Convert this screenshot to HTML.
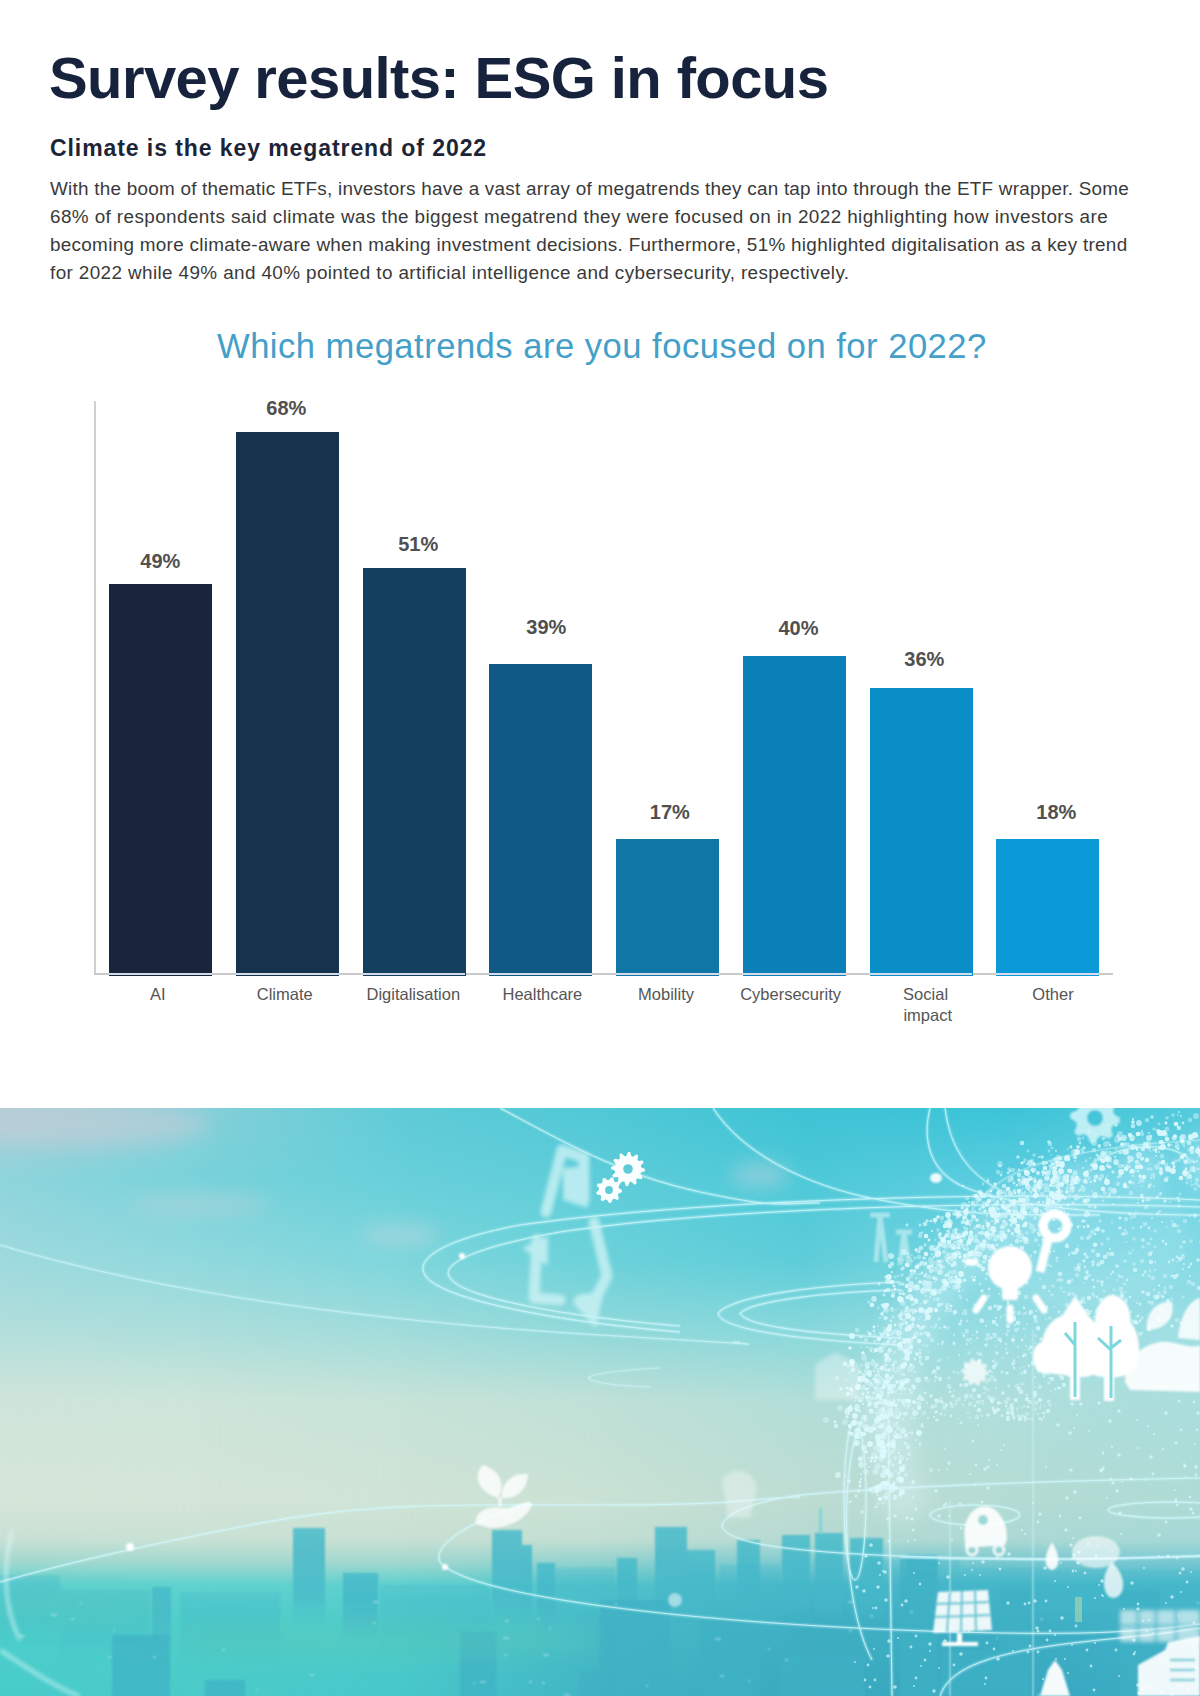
<!DOCTYPE html>
<html>
<head>
<meta charset="utf-8">
<style>
html,body{margin:0;padding:0;background:#fff;}
body{width:1200px;height:1696px;position:relative;overflow:hidden;font-family:"Liberation Sans",sans-serif;}
.a{position:absolute;white-space:nowrap;}
#title{left:49px;top:43px;font-size:58px;font-weight:bold;color:#17233d;letter-spacing:-0.6px;line-height:70px;}
#sub{left:50px;top:133px;font-size:23px;font-weight:bold;color:#1c2538;letter-spacing:0.92px;line-height:30px;}
.body{left:50px;font-size:18.9px;color:#3a3a3a;line-height:28px;}
#ctitle{left:217px;top:324px;font-size:34.6px;color:#449fc9;letter-spacing:0.49px;line-height:44px;}
.bar{position:absolute;width:103px;bottom:calc(1696px - 976px);}
.pct{position:absolute;width:120px;text-align:center;font-size:20px;font-weight:bold;color:#505050;line-height:24px;}
.cat{position:absolute;width:140px;text-align:center;font-size:16.5px;color:#555;line-height:21px;}
#img{position:absolute;left:0;top:1108px;width:1200px;height:588px;overflow:hidden;}
.cf{position:absolute;left:0;top:0;width:1200px;height:588px;}
.ov{position:absolute;left:0;top:0;}
</style>
</head>
<body>
<div class="a" id="title">Survey results: ESG in focus</div>
<div class="a" id="sub">Climate is the key megatrend of 2022</div>
<div class="a body" style="top:175px;letter-spacing:0.24px">With the boom of thematic ETFs, investors have a vast array of megatrends they can tap into through the ETF wrapper. Some</div>
<div class="a body" style="top:203px;letter-spacing:0.4px">68% of respondents said climate was the biggest megatrend they were focused on in 2022 highlighting how investors are</div>
<div class="a body" style="top:231px;letter-spacing:0.29px">becoming more climate-aware when making investment decisions. Furthermore, 51% highlighted digitalisation as a key trend</div>
<div class="a body" style="top:259px;letter-spacing:0.38px">for 2022 while 49% and 40% pointed to artificial intelligence and cybersecurity, respectively.</div>
<div class="a" id="ctitle">Which megatrends are you focused on for 2022?</div>

<!-- chart axes -->
<div style="position:absolute;left:94px;top:401px;width:2px;height:574px;background:#cfcfcf"></div>
<div style="position:absolute;left:94px;top:973px;width:1019px;height:2px;background:#c9c9c9"></div>

<div class="bar" style="left:109px;top:584px;background:#18253d"></div>
<div class="bar" style="left:236px;top:432px;background:#17324d"></div>
<div class="bar" style="left:363px;top:568px;background:#143f5f"></div>
<div class="bar" style="left:489px;top:664px;background:#115985"></div>
<div class="bar" style="left:616px;top:839px;background:#0f76a5"></div>
<div class="bar" style="left:743px;top:656px;background:#0b7fb7"></div>
<div class="bar" style="left:870px;top:688px;background:#0a8ec7"></div>
<div class="bar" style="left:996px;top:839px;background:#0b9ad7"></div>

<div class="pct" style="left:100.3px;top:549.0px">49%</div>
<div class="pct" style="left:226.3px;top:396.0px">68%</div>
<div class="pct" style="left:358.2px;top:532.0px">51%</div>
<div class="pct" style="left:486.3px;top:615.0px">39%</div>
<div class="pct" style="left:609.8px;top:800.0px">17%</div>
<div class="pct" style="left:738.5px;top:615.5px">40%</div>
<div class="pct" style="left:864.3px;top:647.0px">36%</div>
<div class="pct" style="left:996.3px;top:800.0px">18%</div>

<div class="cat" style="left:87.9px;top:984px">AI</div>
<div class="cat" style="left:214.7px;top:984px">Climate</div>
<div class="cat" style="left:343.3px;top:984px">Digitalisation</div>
<div class="cat" style="left:472.4px;top:984px">Healthcare</div>
<div class="cat" style="left:596.0px;top:984px">Mobility</div>
<div class="cat" style="left:720.6px;top:984px">Cybersecurity</div>
<div class="cat" style="left:855.6px;top:984px">Social</div>
<div class="cat" style="left:983.0px;top:984px">Other</div>
<div class="cat" style="left:857.7px;top:1005px">impact</div>
<div style="position:absolute;left:109px;top:973px;width:991px;height:2px;background:repeating-linear-gradient(to right,#d3dce8 0,#d3dce8 103px,transparent 103px,transparent 126.7px)"></div>

<!--IMG--><div id="img"><div class="cf" style="background:linear-gradient(to bottom,#b0cdd6 0px,#8fd5dc 72px,#9edade 152px,#b3dfdc 222px,#cfe5da 292px,#d6e6d9 392px,#c8e1d4 432px,#a0d8cf 454px,#5ed2cf 477px,#4ed0cd 512px,#48ccca 588px);"></div><div class="cf" style="background:linear-gradient(to bottom,#86d0d8 0px,#78d2da 72px,#90d9dd 152px,#acdedb 222px,#cde5d9 292px,#d4e5d8 392px,#c9e1d4 432px,#a2d8cf 454px,#60d2ce 477px,#50d0cc 512px,#4acbc9 588px);-webkit-mask-image:linear-gradient(to right,transparent 0px,#000 200px);mask-image:linear-gradient(to right,transparent 0px,#000 200px);"></div><div class="cf" style="background:linear-gradient(to bottom,#5fcbd7 0px,#68d0da 72px,#7dd6dc 152px,#a0dcdb 222px,#c7e3d8 292px,#d0e4d6 392px,#c8e0d3 432px,#a2d8cf 454px,#5ed0cf 477px,#4ecdcd 512px,#48c8ca 588px);-webkit-mask-image:linear-gradient(to right,transparent 200px,#000 400px);mask-image:linear-gradient(to right,transparent 200px,#000 400px);"></div><div class="cf" style="background:linear-gradient(to bottom,#50c8d6 0px,#5ecdd9 72px,#6cd2da 152px,#90d9da 222px,#bfe0d7 292px,#cae2d4 392px,#c2ded2 432px,#90d2cf 454px,#52c4cb 477px,#48bcc8 512px,#42b4c4 588px);-webkit-mask-image:linear-gradient(to right,transparent 400px,#000 600px);mask-image:linear-gradient(to right,transparent 400px,#000 600px);"></div><div class="cf" style="background:linear-gradient(to bottom,#3fc3d5 0px,#4dc9d8 72px,#5ecdd9 152px,#88d8db 222px,#b2ded8 292px,#bedcd2 392px,#b5dad2 432px,#7ccad0 454px,#48b8c9 477px,#40b0c4 512px,#3aaabe 588px);-webkit-mask-image:linear-gradient(to right,transparent 600px,#000 800px);mask-image:linear-gradient(to right,transparent 600px,#000 800px);"></div><div class="cf" style="background:linear-gradient(to bottom,#3cc4d7 0px,#5ccde0 72px,#7ed7e2 152px,#9adde3 222px,#b0dfdc 292px,#b5dcd4 392px,#acd9d4 432px,#78c8d0 454px,#46b6ca 477px,#3eaec4 512px,#38a8c0 588px);-webkit-mask-image:linear-gradient(to right,transparent 800px,#000 1000px);mask-image:linear-gradient(to right,transparent 800px,#000 1000px);"></div><div class="cf" style="background:linear-gradient(to bottom,#55cadc 0px,#70d4e4 72px,#84dae5 152px,#a0dfe4 222px,#aadedc 292px,#aedbd5 392px,#a5d8d6 432px,#78c8d2 454px,#48b8cc 477px,#42b2c8 512px,#3caec4 588px);-webkit-mask-image:linear-gradient(to right,transparent 1000px,#000 1200px);mask-image:linear-gradient(to right,transparent 1000px,#000 1200px);"></div>
<svg class="ov" width="1200" height="588" viewBox="0 1108 1200 588">
<defs><filter id="b1" x="-20%" y="-20%" width="140%" height="140%"><feGaussianBlur stdDeviation="1"/></filter><filter id="b2" x="-20%" y="-20%" width="140%" height="140%"><feGaussianBlur stdDeviation="2"/></filter><filter id="b4" x="-20%" y="-20%" width="140%" height="140%"><feGaussianBlur stdDeviation="4"/></filter><filter id="b10" x="-50%" y="-50%" width="200%" height="200%"><feGaussianBlur stdDeviation="10"/></filter><linearGradient id="bg" x1="0" y1="0" x2="0" y2="1" gradientUnits="objectBoundingBox"><stop offset="0" stop-color="#48bccb"/><stop offset="0.3" stop-color="#44b8c9"/><stop offset="0.7" stop-color="#46b8c9" stop-opacity="0.8"/><stop offset="1" stop-color="#46b8c9" stop-opacity="0"/></linearGradient></defs>
<g filter="url(#b10)" opacity="0.55"><ellipse cx="90" cy="1125" rx="120" ry="22" fill="#c9cdd8"/><ellipse cx="200" cy="1205" rx="70" ry="10" fill="#b9d3da"/><ellipse cx="400" cy="1235" rx="40" ry="8" fill="#d6d8df"/><ellipse cx="760" cy="1175" rx="30" ry="10" fill="#d0d6de"/></g>
<g filter="url(#b1)"><rect x="0" y="1575" width="60" height="70" fill="url(#bg)" opacity="0.35"/><rect x="60" y="1590" width="90" height="70" fill="url(#bg)" opacity="0.35"/><rect x="180" y="1592" width="100" height="70" fill="url(#bg)" opacity="0.35"/><rect x="380" y="1585" width="110" height="70" fill="url(#bg)" opacity="0.35"/><rect x="555" y="1568" width="60" height="70" fill="url(#bg)" opacity="0.35"/><rect x="720" y="1565" width="60" height="70" fill="url(#bg)" opacity="0.35"/><rect x="870" y="1560" width="90" height="70" fill="url(#bg)" opacity="0.35"/><rect x="960" y="1568" width="80" height="70" fill="url(#bg)" opacity="0.35"/><rect x="1040" y="1570" width="160" height="70" fill="url(#bg)" opacity="0.35"/><rect x="293" y="1528" width="32" height="97" fill="url(#bg)" opacity="0.85"/><rect x="343" y="1573" width="35" height="70" fill="url(#bg)" opacity="0.85"/><rect x="152" y="1587" width="19" height="70" fill="url(#bg)" opacity="0.85"/><rect x="492" y="1530" width="30" height="95" fill="url(#bg)" opacity="0.85"/><rect x="522" y="1545" width="10" height="80" fill="url(#bg)" opacity="0.85"/><rect x="537" y="1563" width="18" height="70" fill="url(#bg)" opacity="0.85"/><rect x="617" y="1558" width="20" height="70" fill="url(#bg)" opacity="0.85"/><rect x="655" y="1527" width="32" height="98" fill="url(#bg)" opacity="0.85"/><rect x="687" y="1550" width="28" height="75" fill="url(#bg)" opacity="0.85"/><rect x="737" y="1540" width="23" height="85" fill="url(#bg)" opacity="0.85"/><rect x="782" y="1535" width="28" height="90" fill="url(#bg)" opacity="0.85"/><rect x="815" y="1533" width="28" height="92" fill="url(#bg)" opacity="0.85"/><rect x="850" y="1538" width="33" height="87" fill="url(#bg)" opacity="0.85"/><rect x="907" y="1555" width="30" height="70" fill="url(#bg)" opacity="0.85"/><rect x="819" y="1508" width="3" height="26" fill="#7ccfd6" opacity="0.8"/><rect x="112" y="1635" width="58" height="65" fill="#40b0c4" opacity="0.7"/><rect x="460" y="1632" width="36" height="68" fill="#40b0c4" opacity="0.7"/><rect x="780" y="1655" width="85" height="45" fill="#40b0c4" opacity="0.7"/><rect x="205" y="1680" width="40" height="20" fill="#40b0c4" opacity="0.7"/><rect x="580" y="1670" width="40" height="30" fill="#40b0c4" opacity="0.7"/><rect x="940" y="1650" width="60" height="50" fill="#40b0c4" opacity="0.7"/><rect x="900" y="1556" width="38" height="144" fill="#40b0c4" opacity="0.7"/><rect x="1000" y="1590" width="30" height="110" fill="#40b0c4" opacity="0.7"/><rect x="1120" y="1590" width="40" height="110" fill="#40b0c4" opacity="0.7"/><rect x="600" y="1600" width="70" height="100" fill="#40b0c4" opacity="0.7"/><rect x="700" y="1620" width="60" height="80" fill="#40b0c4" opacity="0.7"/></g><g filter="url(#b10)"><ellipse cx="380" cy="1640" rx="220" ry="20" fill="#5cc9b4" opacity="0.35"/><ellipse cx="80" cy="1610" rx="90" ry="15" fill="#5cc9b4" opacity="0.25"/></g><g fill="#c8f0ee" opacity="0.45" filter="url(#b1)"><rect x="543" y="1654" width="6" height="2"/><rect x="542" y="1682" width="3" height="2"/><rect x="222" y="1649" width="3" height="2"/><rect x="113" y="1629" width="2" height="2"/><rect x="646" y="1685" width="2" height="2"/><rect x="715" y="1638" width="6" height="2"/><rect x="785" y="1659" width="3" height="2"/><rect x="748" y="1680" width="2" height="2"/><rect x="71" y="1618" width="3" height="2"/><rect x="720" y="1675" width="4" height="2"/><rect x="529" y="1681" width="3" height="2"/><rect x="768" y="1648" width="2" height="2"/><rect x="549" y="1627" width="2" height="2"/><rect x="849" y="1630" width="3" height="2"/><rect x="615" y="1603" width="2" height="2"/><rect x="480" y="1681" width="6" height="2"/><rect x="80" y="1602" width="2" height="2"/><rect x="256" y="1689" width="2" height="2"/><rect x="564" y="1694" width="6" height="2"/><rect x="504" y="1654" width="3" height="2"/><rect x="934" y="1626" width="2" height="2"/><rect x="373" y="1601" width="6" height="2"/><rect x="910" y="1611" width="3" height="2"/><rect x="848" y="1601" width="6" height="2"/><rect x="956" y="1617" width="3" height="2"/><rect x="537" y="1618" width="3" height="2"/><rect x="503" y="1637" width="6" height="2"/><rect x="505" y="1620" width="4" height="2"/><rect x="1037" y="1694" width="4" height="2"/><rect x="1197" y="1602" width="3" height="2"/><rect x="473" y="1682" width="2" height="2"/><rect x="51" y="1614" width="6" height="2"/><rect x="310" y="1674" width="4" height="2"/><rect x="996" y="1637" width="2" height="2"/><rect x="108" y="1656" width="3" height="2"/><rect x="19" y="1635" width="6" height="2"/><rect x="153" y="1656" width="3" height="2"/><rect x="1040" y="1618" width="3" height="2"/><rect x="373" y="1622" width="3" height="2"/><rect x="870" y="1615" width="3" height="2"/></g>
<g filter="url(#b1)"><g fill="none" stroke="#d2f8fd" stroke-width="1.6" opacity="0.75"><path d="M0 1245 C 150 1290, 350 1320, 600 1335 S 700 1342, 740 1342" opacity="0.8"/><path d="M500 1108 C 560 1140, 620 1175, 700 1192 S 780 1203, 820 1203"/><path d="M713 1108 C 740 1150, 800 1185, 880 1200 S 1000 1215, 1100 1215"/><path d="M970 1215 C 990 1170, 1060 1148, 1200 1140" opacity="0.6"/><path d="M1200 1200 C 1000 1190, 700 1200, 520 1225 C 440 1240, 415 1260, 425 1275 C 440 1300, 560 1322, 680 1332"/><path d="M1200 1207 C 1000 1200, 720 1208, 560 1232 C 470 1248, 440 1265, 450 1278 C 465 1300, 580 1318, 680 1326"/><path d="M930 1108 C 922 1140, 930 1170, 960 1185 C 1000 1205, 1100 1215, 1200 1215"/><path d="M945 1108 C 950 1150, 970 1175, 1000 1190"/><path d="M900 1282 C 820 1285, 735 1295, 718 1313 C 720 1330, 800 1340, 900 1345"/><path d="M900 1290 C 830 1292, 755 1300, 740 1313 C 745 1326, 810 1334, 900 1338"/><path d="M660 1368 C 620 1370, 590 1374, 588 1378 C 592 1383, 620 1386, 650 1387" opacity="0.6"/><path d="M1200 1478 C 1000 1482, 880 1488, 800 1495 C 750 1502, 722 1515, 722 1527 C 730 1545, 800 1552, 900 1556 S 1100 1560, 1200 1556"/><path d="M0 1582 C 60 1565, 130 1548, 250 1525 S 450 1505, 600 1505 S 750 1498, 800 1497"/><path d="M530 1503 C 470 1520, 432 1545, 440 1562 C 470 1598, 700 1622, 900 1630 S 1150 1630, 1200 1624"/><ellipse cx="975" cy="1515" rx="45" ry="10"/><ellipse cx="1170" cy="1510" rx="62" ry="8"/><path d="M900 1557 C 1000 1560, 1100 1560, 1200 1556" stroke-width="2.5" opacity="0.6"/><path d="M940 1696 C 950 1665, 1000 1650, 1100 1640 S 1180 1630, 1200 1628"/><ellipse cx="855" cy="1500" rx="11" ry="80"/><path d="M862 1420 C 840 1460, 840 1600, 872 1660"/><path d="M888 1400 L 892 1696"/><path d="M1100 1160 C 1120 1145, 1170 1140, 1190 1160"/><path d="M1033 1330 L 1033 1696 M950 1500 L 950 1696" opacity="0.5"/><path d="M0 1108 L 0 1108"/></g></g><g fill="none" stroke="#d2f8fd" stroke-width="1" opacity="0.8"><path d="M0 1245 C 150 1290, 350 1320, 600 1335 S 700 1342, 740 1342" opacity="0.8"/><path d="M500 1108 C 560 1140, 620 1175, 700 1192 S 780 1203, 820 1203"/><path d="M713 1108 C 740 1150, 800 1185, 880 1200 S 1000 1215, 1100 1215"/><path d="M970 1215 C 990 1170, 1060 1148, 1200 1140" opacity="0.6"/><path d="M1200 1200 C 1000 1190, 700 1200, 520 1225 C 440 1240, 415 1260, 425 1275 C 440 1300, 560 1322, 680 1332"/><path d="M1200 1207 C 1000 1200, 720 1208, 560 1232 C 470 1248, 440 1265, 450 1278 C 465 1300, 580 1318, 680 1326"/><path d="M930 1108 C 922 1140, 930 1170, 960 1185 C 1000 1205, 1100 1215, 1200 1215"/><path d="M945 1108 C 950 1150, 970 1175, 1000 1190"/><path d="M900 1282 C 820 1285, 735 1295, 718 1313 C 720 1330, 800 1340, 900 1345"/><path d="M900 1290 C 830 1292, 755 1300, 740 1313 C 745 1326, 810 1334, 900 1338"/><path d="M660 1368 C 620 1370, 590 1374, 588 1378 C 592 1383, 620 1386, 650 1387" opacity="0.6"/><path d="M1200 1478 C 1000 1482, 880 1488, 800 1495 C 750 1502, 722 1515, 722 1527 C 730 1545, 800 1552, 900 1556 S 1100 1560, 1200 1556"/><path d="M0 1582 C 60 1565, 130 1548, 250 1525 S 450 1505, 600 1505 S 750 1498, 800 1497"/><path d="M530 1503 C 470 1520, 432 1545, 440 1562 C 470 1598, 700 1622, 900 1630 S 1150 1630, 1200 1624"/><ellipse cx="975" cy="1515" rx="45" ry="10"/><ellipse cx="1170" cy="1510" rx="62" ry="8"/><path d="M900 1557 C 1000 1560, 1100 1560, 1200 1556" stroke-width="2.5" opacity="0.6"/><path d="M940 1696 C 950 1665, 1000 1650, 1100 1640 S 1180 1630, 1200 1628"/><ellipse cx="855" cy="1500" rx="11" ry="80"/><path d="M862 1420 C 840 1460, 840 1600, 872 1660"/><path d="M888 1400 L 892 1696"/><path d="M1100 1160 C 1120 1145, 1170 1140, 1190 1160"/><path d="M1033 1330 L 1033 1696 M950 1500 L 950 1696" opacity="0.5"/><path d="M0 1108 L 0 1108"/></g>
<g fill="none" stroke="#e8fdff" stroke-width="3" opacity="0.7" filter="url(#b2)"><path d="M12 1530 C 5 1560, 0 1600, 20 1640"/><path d="M0 1650 C 30 1670, 60 1690, 80 1696"/></g>
<g fill="#ffffff" filter="url(#b1)"><circle cx="130" cy="1547" r="4"/><circle cx="445" cy="1567" r="3"/><circle cx="462" cy="1256" r="3"/><circle cx="675" cy="1600" r="7" opacity="0.5"/></g>
<g filter="url(#b10)" fill="#e9fcff" opacity="0.28"><circle cx="903" cy="1496" r="26"/><circle cx="893" cy="1451" r="26"/><circle cx="889" cy="1411" r="26"/><circle cx="895" cy="1381" r="26"/><circle cx="910" cy="1333" r="26"/><circle cx="934" cy="1290" r="26"/><circle cx="961" cy="1261" r="26"/><circle cx="991" cy="1238" r="26"/><circle cx="1021" cy="1217" r="26"/><circle cx="1050" cy="1199" r="26"/><circle cx="1082" cy="1185" r="26"/><circle cx="1141" cy="1170" r="26"/><circle cx="1207" cy="1161" r="26"/><ellipse cx="1080" cy="1240" rx="110" ry="70" opacity="0.5"/></g><g fill="none" stroke="#dcf9fd" stroke-linecap="round"><path stroke-width="2.0" opacity="0.45" d="M1015 1190h0M935 1282h0M1090 1182h0M1077 1172h0M884 1328h0M1142 1195h0M886 1337h0M943 1283h0M1039 1191h0M1082 1198h0M891 1405h0M1090 1158h0M976 1197h0M1125 1169h0M949 1273h0M889 1383h0M1073 1191h0M879 1375h0M865 1383h0M1076 1158h0M978 1259h0M954 1262h0M1107 1176h0M957 1240h0M1176 1146h0M881 1450h0M875 1334h0M971 1240h0M928 1282h0M957 1246h0M1007 1211h0M849 1440h0M1012 1177h0M857 1383h0M884 1482h0M935 1240h0M1068 1149h0M859 1411h0M1043 1185h0M866 1397h0M892 1296h0M952 1260h0M878 1431h0M1022 1189h0M1016 1186h0M920 1251h0M1040 1235h0M884 1453h0M897 1390h0M956 1251h0M1095 1169h0M866 1431h0M865 1355h0M919 1319h0M894 1345h0M1196 1162h0M956 1264h0M1172 1145h0M924 1287h0M1086 1178h0M921 1317h0M1014 1236h0M965 1239h0M937 1257h0M893 1331h0M890 1400h0M931 1327h0M907 1438h0M1014 1212h0M955 1248h0M931 1248h0M890 1455h0M1200 1165h0M921 1304h0M883 1451h0M901 1494h0M893 1354h0M901 1327h0M964 1227h0M896 1471h0M963 1245h0M1019 1196h0M1047 1212h0M917 1274h0M981 1253h0M852 1398h0M1202 1139h0M866 1398h0M996 1186h0M868 1420h0M878 1326h0M972 1208h0M846 1476h0M1150 1151h0M964 1217h0M929 1352h0M948 1358h0M1080 1226h0M1004 1275h0M945 1239h0M974 1310h0M1061 1315h0M894 1366h0M1150 1164h0M996 1399h0M1052 1197h0M1076 1209h0M966 1333h0M1093 1350h0M919 1408h0M877 1417h0M1040 1307h0M1084 1324h0M1022 1408h0M912 1255h0M1051 1391h0M908 1328h0M1049 1378h0M1111 1162h0M1040 1279h0M1067 1190h0M994 1283h0M1039 1181h0M1125 1338h0M975 1200h0M996 1346h0M973 1264h0M1054 1307h0M1006 1334h0M1136 1317h0M970 1418h0M858 1371h0M1004 1315h0M989 1257h0M1170 1202h0M1035 1343h0M1082 1372h0M1098 1315h0M1027 1324h0M1020 1368h0M1070 1194h0M1126 1292h0M971 1343h0M1191 1181h0M1095 1230h0M1167 1227h0M1126 1242h0M1109 1142h0M1070 1358h0M1058 1162h0M1039 1245h0M1046 1233h0M1014 1336h0M1025 1355h0M1105 1331h0M936 1300h0M1140 1133h0M954 1391h0M896 1391h0M1072 1350h0M1069 1198h0M1013 1404h0M1067 1243h0M1175 1137h0M1041 1405h0M1100 1196h0M1107 1278h0M1085 1217h0M942 1222h0M1147 1243h0M925 1381h0M934 1417h0M894 1256h0M1086 1333h0M982 1355h0M1045 1406h0M1092 1191h0M966 1254h0M861 1388h0M1024 1367h0M1112 1223h0M1088 1227h0M1026 1418h0M935 1223h0M911 1259h0M1043 1413h0M1015 1312h0M917 1333h0M1014 1344h0M1110 1335h0M945 1415h0M1139 1183h0M974 1341h0M1033 1365h0M1172 1221h0M1026 1395h0M1154 1186h0M1051 1155h0M1078 1246h0M903 1260h0M1084 1283h0M1008 1285h0M1105 1326h0M923 1345h0M973 1335h0M1126 1206h0M1085 1303h0M918 1413h0M958 1419h0M1133 1250h0M949 1237h0M1142 1186h0M988 1179h0M891 1388h0M1046 1319h0M894 1293h0M1035 1387h0M1048 1173h0M1163 1141h0M898 1412h0M1117 1280h0M1025 1336h0M1015 1229h0M846 1380h0M866 1369h0M963 1290h0M1077 1361h0M1177 1262h0M1107 1338h0M1042 1420h0M982 1401h0M1002 1172h0M1001 1256h0M1047 1369h0M1178 1115h0M1064 1209h0M896 1310h0M1064 1370h0M1051 1354h0M861 1347h0M1100 1147h0M1110 1195h0M1199 1155h0M881 1388h0M974 1399h0M853 1367h0M1079 1267h0M849 1373h0M995 1224h0M1058 1351h0M894 1404h0"/><path stroke-width="2.0" opacity="0.7" d="M960 1248h0M901 1460h0M992 1221h0M908 1254h0M1019 1194h0M894 1402h0M848 1434h0M1053 1193h0M914 1304h0M1057 1188h0M898 1276h0M1042 1181h0M883 1447h0M1075 1161h0M1117 1164h0M867 1347h0M990 1235h0M1048 1178h0M1156 1156h0M1074 1155h0M884 1408h0M893 1447h0M1060 1174h0M1198 1147h0M1163 1148h0M1017 1211h0M1003 1193h0M975 1211h0M1197 1161h0M1138 1203h0M1164 1143h0M993 1233h0M1159 1152h0M965 1280h0M932 1254h0M988 1228h0M1103 1155h0M1183 1155h0M1006 1195h0M1079 1151h0M1140 1164h0M960 1282h0M890 1443h0M903 1359h0M862 1418h0M1032 1188h0M869 1388h0M887 1385h0M1083 1152h0M965 1267h0M916 1440h0M881 1498h0M986 1256h0M915 1372h0M912 1341h0M909 1257h0M961 1241h0M874 1404h0M895 1352h0M880 1318h0M984 1207h0M1039 1182h0M934 1299h0M919 1289h0M1060 1171h0M1129 1146h0M940 1262h0M920 1274h0M1082 1186h0M964 1261h0M1138 1158h0M869 1467h0M1050 1186h0M878 1369h0M1016 1225h0M1052 1168h0M877 1495h0M844 1484h0M857 1430h0M1151 1178h0M1119 1197h0M959 1246h0M912 1392h0M926 1296h0M1199 1156h0M871 1351h0M855 1409h0M956 1210h0M1046 1178h0M1118 1177h0M1080 1190h0M1116 1149h0M883 1471h0M849 1433h0M989 1234h0M895 1432h0M975 1217h0M1049 1291h0M1155 1262h0M1054 1251h0M1055 1370h0M960 1296h0M968 1223h0M1092 1323h0M930 1297h0M1184 1264h0M1036 1311h0M873 1360h0M1105 1130h0M1072 1185h0M928 1418h0M1001 1317h0M992 1400h0M1159 1286h0M1082 1340h0M1085 1221h0M990 1399h0M996 1318h0M920 1233h0M940 1328h0M1026 1346h0M1069 1254h0M1190 1276h0M1046 1368h0M1024 1162h0M1098 1308h0M970 1261h0M1094 1244h0M983 1401h0M993 1361h0M920 1350h0M1053 1356h0M1058 1356h0M998 1310h0M1065 1212h0M1155 1270h0M1152 1218h0M1131 1312h0M986 1326h0M1096 1134h0M1133 1228h0M847 1416h0M968 1413h0M927 1403h0M1094 1317h0M1058 1187h0M1087 1273h0M1040 1418h0M1083 1168h0M1129 1156h0M1067 1359h0M1079 1198h0M1025 1192h0M969 1202h0M1001 1403h0M1141 1196h0M993 1321h0M1179 1112h0M1142 1131h0M1125 1230h0M1162 1222h0M1047 1353h0M1113 1309h0M923 1326h0M987 1216h0M908 1348h0M1050 1252h0M1090 1275h0M1160 1211h0M999 1409h0M954 1314h0M1149 1133h0M971 1339h0M1152 1315h0M992 1372h0M1107 1160h0M933 1290h0M1062 1318h0M1113 1295h0M1067 1360h0M996 1388h0M1015 1318h0M903 1294h0M949 1279h0M1001 1342h0M987 1383h0M1052 1193h0M997 1272h0M912 1261h0M1014 1360h0M993 1334h0M1018 1357h0M1159 1285h0M1111 1274h0M896 1414h0M942 1344h0M906 1413h0M874 1352h0M1172 1326h0M1161 1193h0M1091 1311h0M883 1312h0M1043 1360h0M1154 1178h0M967 1344h0M1052 1239h0M932 1373h0M1187 1179h0M886 1414h0M936 1249h0M1077 1317h0M1094 1296h0M1162 1321h0M1039 1157h0M1069 1255h0M1089 1318h0M986 1260h0M1027 1164h0M1113 1204h0M1059 1373h0M949 1287h0M1011 1225h0M1030 1212h0M950 1388h0M1101 1305h0M1077 1373h0M908 1408h0M1089 1318h0M1029 1401h0M883 1379h0M1092 1353h0M1137 1303h0M1018 1252h0M934 1417h0M1181 1116h0M1056 1151h0M959 1355h0M1035 1377h0M1110 1249h0M1128 1187h0M1001 1200h0M984 1393h0M975 1277h0M1110 1316h0M999 1294h0M1109 1129h0M1035 1178h0M938 1344h0M920 1407h0M901 1394h0M1014 1215h0M1183 1269h0M1100 1145h0M1057 1261h0M1015 1325h0M1051 1266h0M1027 1395h0M951 1278h0M903 1419h0M1104 1138h0M910 1380h0M969 1631h0M965 1400h0M1001 1450h0M978 1425h0M1072 1645h0M1065 1659h0M1179 1616h0M909 1433h0M975 1485h0M855 1662h0M1135 1652h0M1074 1428h0M949 1593h0M1124 1609h0M1166 1663h0M1166 1603h0M851 1434h0M1112 1551h0M965 1575h0M1137 1420h0M1095 1598h0M873 1608h0M1146 1480h0M999 1524h0M1119 1676h0M1122 1482h0M873 1487h0M1089 1431h0M878 1504h0M1199 1556h0M947 1405h0M1098 1546h0M1099 1585h0M939 1668h0M1175 1490h0M1102 1595h0M1068 1587h0M1004 1445h0M1076 1571h0M1195 1444h0M1068 1673h0M946 1404h0M908 1541h0M880 1575h0M921 1666h0M1149 1620h0M989 1460h0M973 1563h0M1159 1556h0M1103 1467h0M1143 1621h0M952 1540h0M1184 1464h0M1043 1679h0M1121 1534h0M985 1684h0M949 1516h0M945 1449h0M1107 1498h0M1163 1449h0M1186 1477h0M1077 1415h0M947 1469h0M1147 1631h0M922 1424h0M970 1474h0M883 1571h0M1055 1635h0M860 1438h0M1056 1659h0M915 1540h0M939 1563h0M997 1465h0M979 1520h0M1181 1592h0M1176 1499h0M980 1575h0M1181 1685h0M1183 1686h0M1013 1651h0M1189 1662h0M1033 1503h0M1191 1572h0M1144 1568h0M1055 1581h0M1112 1447h0M1154 1434h0M1046 1467h0M930 1651h0M939 1470h0M1153 1633h0M874 1649h0M1022 1530h0M1148 1426h0M1138 1448h0M1025 1534h0M1095 1643h0M898 1638h0M972 1570h0M914 1686h0M914 1573h0M1061 1563h0M1073 1538h0M1103 1596h0"/><path stroke-width="2.0" opacity="0.95" d="M900 1294h0M963 1186h0M928 1290h0M861 1474h0M904 1375h0M899 1453h0M1029 1190h0M875 1368h0M851 1405h0M964 1249h0M1094 1180h0M961 1215h0M886 1359h0M961 1237h0M893 1376h0M888 1393h0M870 1376h0M952 1254h0M926 1274h0M874 1371h0M955 1262h0M1016 1221h0M1037 1196h0M988 1247h0M1132 1140h0M1068 1170h0M983 1226h0M1077 1153h0M894 1400h0M871 1383h0M886 1488h0M863 1404h0M1043 1175h0M939 1235h0M1115 1157h0M883 1443h0M887 1418h0M1137 1150h0M920 1362h0M1008 1207h0M881 1403h0M1030 1179h0M895 1499h0M1143 1158h0M891 1387h0M870 1432h0M934 1257h0M991 1196h0M1028 1204h0M903 1403h0M1178 1127h0M1017 1185h0M1178 1149h0M1067 1191h0M876 1366h0M876 1413h0M1133 1119h0M1091 1165h0M927 1378h0M1047 1163h0M883 1441h0M902 1478h0M1043 1202h0M1047 1198h0M859 1380h0M876 1387h0M877 1440h0M887 1335h0M1057 1181h0M890 1379h0M961 1241h0M971 1242h0M1008 1206h0M1110 1152h0M892 1308h0M1054 1220h0M875 1420h0M856 1411h0M955 1242h0M852 1390h0M1006 1207h0M1156 1152h0M907 1323h0M1008 1208h0M1039 1202h0M892 1272h0M1013 1233h0M1033 1172h0M1067 1188h0M932 1231h0M861 1479h0M970 1225h0M901 1328h0M907 1459h0M849 1414h0M995 1223h0"/><path stroke-width="2.8" opacity="0.45" d="M912 1288h0M1006 1217h0M947 1223h0M1106 1154h0M901 1349h0M1053 1203h0M876 1422h0M1077 1183h0M868 1490h0M1174 1164h0M868 1458h0M901 1343h0M871 1427h0M957 1238h0M880 1333h0M1012 1179h0M883 1334h0M995 1240h0M875 1403h0M906 1324h0M1063 1217h0M868 1332h0M863 1398h0M1095 1161h0M1185 1155h0M866 1464h0M877 1396h0M972 1277h0M1009 1257h0M1019 1235h0M1191 1149h0M1004 1228h0M886 1469h0M1162 1135h0M957 1218h0M895 1417h0M905 1437h0M954 1262h0M915 1271h0M889 1422h0M1022 1182h0M949 1247h0M939 1243h0M886 1310h0M1174 1166h0M864 1388h0M912 1305h0M880 1489h0M1058 1181h0M1024 1218h0M935 1256h0M893 1317h0M846 1491h0M860 1411h0M1135 1171h0M920 1360h0M866 1379h0M1190 1175h0M886 1403h0M1062 1192h0M1025 1204h0M888 1396h0M904 1341h0M1143 1149h0M1093 1141h0M979 1242h0M1103 1134h0M1190 1139h0M925 1320h0M1051 1162h0M977 1201h0M982 1197h0M884 1423h0M1050 1192h0M993 1189h0M968 1221h0M997 1216h0M1030 1224h0M902 1311h0M865 1416h0M1064 1292h0M963 1334h0M855 1401h0M1028 1414h0M1085 1311h0M906 1311h0M1045 1354h0M1183 1297h0M967 1321h0M958 1373h0M1091 1342h0M1039 1329h0M1022 1268h0M1054 1368h0M986 1221h0M949 1278h0M1006 1349h0M1165 1288h0M928 1381h0M1072 1280h0M1114 1290h0M1151 1136h0M1104 1291h0M911 1418h0M1154 1290h0M974 1364h0M980 1396h0M1024 1314h0M977 1338h0M945 1276h0M1098 1310h0M1044 1417h0M1035 1409h0M909 1266h0M1096 1244h0M1032 1419h0M1006 1262h0M1006 1344h0M868 1398h0M1065 1224h0M911 1393h0M1038 1414h0M966 1314h0M1136 1213h0M994 1361h0M919 1252h0M1000 1270h0M975 1305h0M1042 1420h0M1094 1351h0M916 1278h0M989 1248h0M1008 1409h0M961 1298h0M1061 1159h0M1096 1230h0M1151 1239h0M1192 1185h0M963 1314h0M1018 1347h0M988 1390h0M986 1279h0M1003 1202h0M1152 1252h0M1057 1162h0M1124 1284h0M1026 1313h0M938 1361h0M1111 1301h0M1026 1414h0M1039 1187h0M1172 1299h0M926 1263h0M1031 1256h0M1091 1182h0M878 1308h0M1040 1408h0M872 1411h0M1040 1216h0M977 1353h0M1123 1315h0M1131 1218h0M862 1365h0M1103 1201h0M995 1334h0M1126 1308h0M1183 1255h0M1072 1253h0M1061 1288h0M1190 1216h0M1008 1304h0M1073 1186h0M1018 1329h0M941 1398h0M1180 1194h0M1049 1151h0M1075 1327h0M1153 1323h0M1087 1204h0M1046 1374h0M1150 1271h0M1028 1151h0M1036 1410h0M1069 1323h0M922 1233h0M1048 1402h0M1184 1146h0M1156 1299h0M1095 1230h0M1007 1335h0M982 1416h0M1071 1147h0M1159 1124h0M1006 1224h0M883 1394h0M1069 1281h0M1059 1206h0M956 1229h0M983 1184h0M944 1327h0M1155 1247h0M914 1418h0M963 1405h0M983 1404h0M1036 1336h0M1126 1302h0M1031 1353h0M1061 1228h0M1086 1161h0M983 1270h0M935 1381h0M927 1346h0M1032 1210h0M1133 1176h0M1142 1333h0M1086 1182h0M1125 1284h0M1011 1272h0M1024 1329h0M1003 1358h0M1187 1183h0M1134 1335h0M993 1257h0M956 1278h0M1084 1302h0M954 1335h0M1200 1221h0M1024 1255h0M1079 1191h0M965 1396h0M967 1300h0M1017 1409h0M1024 1406h0M1083 1138h0M1079 1271h0M849 1408h0M913 1409h0M1052 1148h0M1068 1185h0M955 1271h0M851 1390h0"/><path stroke-width="2.8" opacity="0.7" d="M957 1248h0M1063 1180h0M884 1487h0M1039 1183h0M1031 1192h0M1008 1173h0M952 1277h0M1194 1162h0M868 1393h0M947 1275h0M907 1225h0M915 1359h0M1059 1185h0M894 1483h0M1071 1147h0M889 1416h0M1014 1205h0M1023 1226h0M904 1414h0M1123 1166h0M906 1444h0M1001 1175h0M996 1217h0M1097 1155h0M904 1367h0M867 1389h0M1205 1127h0M886 1429h0M1035 1230h0M904 1294h0M1109 1196h0M865 1371h0M879 1382h0M891 1321h0M998 1193h0M1197 1136h0M1076 1151h0M998 1201h0M961 1321h0M883 1388h0M1003 1206h0M1120 1153h0M1059 1229h0M1072 1179h0M1110 1145h0M1197 1150h0M1071 1185h0M910 1390h0M888 1382h0M920 1225h0M1058 1179h0M922 1273h0M960 1254h0M973 1264h0M1073 1203h0M1107 1166h0M873 1398h0M893 1465h0M976 1258h0M894 1402h0M905 1389h0M976 1236h0M878 1371h0M1004 1202h0M863 1394h0M847 1388h0M903 1284h0M967 1220h0M938 1247h0M870 1397h0M997 1245h0M904 1382h0M1067 1181h0M1034 1212h0M1054 1186h0M907 1298h0M1037 1214h0M1190 1136h0M1198 1169h0M1034 1196h0M1202 1134h0M1118 1136h0M912 1433h0M882 1426h0M909 1291h0M945 1327h0M1035 1196h0M911 1310h0M925 1245h0M884 1295h0M1138 1171h0M1000 1166h0M882 1485h0M900 1413h0M1080 1143h0M1052 1183h0M1010 1201h0M887 1431h0M959 1291h0M1140 1321h0M1127 1280h0M1078 1227h0M1149 1228h0M967 1245h0M1161 1174h0M993 1408h0M1113 1272h0M1002 1416h0M887 1375h0M913 1313h0M1121 1315h0M1022 1340h0M1019 1170h0M1025 1417h0M954 1343h0M1014 1183h0M990 1371h0M1021 1241h0M1201 1260h0M1060 1376h0M1157 1197h0M920 1396h0M1088 1276h0M1201 1251h0M1038 1233h0M947 1308h0M1142 1195h0M1025 1373h0M890 1359h0M1047 1307h0M1007 1353h0M950 1392h0M1044 1376h0M1130 1297h0M918 1399h0M1189 1267h0M1063 1359h0M997 1325h0M1061 1207h0M1140 1304h0M1062 1186h0M1145 1272h0M989 1289h0M1010 1171h0M942 1304h0M1085 1267h0M886 1365h0M1061 1235h0M1025 1420h0M979 1233h0M856 1397h0M1120 1322h0M1141 1227h0M949 1263h0M1143 1275h0M1036 1187h0M995 1259h0M914 1389h0M1093 1280h0M1191 1264h0M931 1221h0M1072 1177h0M1012 1223h0M990 1275h0M1102 1285h0M1028 1407h0M925 1393h0M999 1262h0M1177 1257h0M1169 1262h0M1068 1214h0M1113 1336h0M1054 1349h0M1023 1356h0M1041 1211h0M964 1336h0M977 1332h0M943 1342h0M1067 1369h0M1006 1406h0M1097 1176h0M1106 1179h0M1168 1318h0M1078 1344h0M1011 1245h0M995 1262h0M1172 1276h0M1166 1244h0M1179 1201h0M1018 1416h0M988 1181h0M1084 1227h0M1097 1297h0M1178 1198h0M1014 1191h0M1049 1231h0M882 1305h0M1068 1205h0M1030 1270h0M1012 1234h0M1050 1166h0M1094 1287h0M1027 1283h0M1059 1388h0M1059 1312h0M1138 1316h0M1074 1329h0M901 1387h0M1173 1260h0M1117 1315h0M1108 1354h0M1078 1267h0M1024 1308h0M848 1366h0M1163 1241h0M1002 1257h0M920 1353h0M1093 1265h0M987 1274h0M909 1312h0M879 1284h0M965 1280h0M1042 1213h0M1095 1234h0M1158 1213h0M1163 1297h0M1062 1360h0M1058 1361h0M1120 1321h0M1009 1212h0M874 1331h0M998 1403h0M1149 1187h0M905 1314h0M1183 1123h0M975 1251h0M951 1416h0M872 1399h0M1001 1307h0M1014 1368h0M1076 1253h0M1008 1302h0M1035 1190h0M1110 1332h0M1029 1366h0M940 1290h0M1101 1471h0M941 1414h0M1047 1640h0M865 1680h0M994 1649h0M1076 1626h0M1176 1501h0M961 1528h0M1145 1686h0M868 1665h0M1025 1604h0M1197 1430h0M1176 1443h0M920 1584h0M1148 1686h0M1168 1556h0M1094 1690h0M876 1608h0M861 1423h0M1153 1474h0M1050 1631h0M987 1643h0M988 1467h0M1193 1671h0M876 1507h0M987 1604h0M1181 1430h0M1186 1680h0M1196 1475h0M1187 1582h0M920 1444h0M1080 1518h0M1000 1569h0M1029 1603h0M1060 1516h0M865 1419h0M979 1595h0M960 1504h0M982 1502h0M1194 1623h0M997 1558h0M1085 1573h0M1028 1652h0M1030 1646h0M1073 1571h0M1087 1650h0M1134 1654h0M976 1465h0M889 1541h0M975 1406h0M1138 1604h0M944 1506h0M1046 1601h0M973 1441h0M913 1530h0M1103 1453h0M1088 1544h0M954 1665h0M1180 1573h0M916 1678h0M1038 1522h0M916 1509h0M916 1636h0M1177 1558h0M925 1660h0M1177 1505h0M961 1423h0M1038 1652h0M856 1496h0M870 1687h0M1116 1650h0M1194 1402h0M986 1678h0M1179 1401h0M893 1416h0M1111 1479h0M1038 1631h0M875 1680h0M991 1537h0M1193 1513h0M1091 1666h0M850 1502h0M1096 1556h0M900 1415h0M1166 1522h0M911 1647h0M902 1605h0M1190 1497h0"/><path stroke-width="2.8" opacity="0.95" d="M885 1291h0M1133 1172h0M999 1214h0M1009 1231h0M881 1451h0M891 1409h0M911 1271h0M911 1365h0M895 1325h0M1174 1167h0M900 1463h0M1186 1169h0M913 1324h0M888 1356h0M1036 1192h0M1076 1183h0M894 1286h0M1143 1201h0M991 1191h0M1010 1220h0M1012 1217h0M976 1249h0M951 1306h0M893 1443h0M916 1311h0M901 1319h0M964 1260h0M947 1261h0M967 1209h0M1044 1214h0M959 1248h0M956 1233h0M906 1323h0M895 1289h0M1156 1150h0M862 1435h0M916 1250h0M932 1266h0M955 1282h0M977 1226h0M1056 1210h0M891 1378h0M962 1208h0M1125 1184h0M871 1461h0M929 1240h0M995 1231h0M860 1486h0M1109 1167h0M1095 1181h0M1038 1173h0M1137 1148h0M861 1434h0M886 1401h0M879 1403h0M1022 1163h0M1032 1179h0M946 1235h0M1008 1249h0M835 1422h0M945 1237h0M874 1327h0M893 1365h0M871 1431h0M883 1467h0M940 1253h0M1166 1123h0M1023 1217h0M1001 1199h0M1022 1219h0M860 1482h0M1068 1176h0M1059 1189h0M860 1401h0M876 1458h0M995 1184h0M1015 1193h0"/><path stroke-width="3.6" opacity="0.45" d="M1011 1225h0M874 1336h0M1095 1166h0M863 1389h0M886 1384h0M1082 1150h0M875 1341h0M968 1258h0M913 1497h0M989 1230h0M877 1472h0M905 1443h0M927 1301h0M950 1272h0M939 1249h0M1041 1188h0M897 1409h0M942 1261h0M952 1272h0M1192 1161h0M859 1411h0M989 1261h0M1176 1161h0M915 1287h0M881 1455h0M1189 1172h0M1002 1217h0M1189 1150h0M1204 1169h0M901 1314h0M864 1386h0M1038 1203h0M1128 1144h0M941 1265h0M869 1302h0M948 1254h0M963 1237h0M1151 1169h0M883 1381h0M1034 1155h0M915 1258h0M862 1401h0M1006 1210h0M883 1497h0M1116 1162h0M935 1290h0M878 1445h0M894 1392h0M951 1260h0M913 1319h0M1060 1178h0M991 1195h0M886 1482h0M1144 1144h0M882 1415h0M966 1215h0M897 1423h0M887 1305h0M896 1372h0M852 1394h0M989 1239h0M1179 1160h0M892 1475h0M939 1319h0M1154 1129h0M895 1277h0M959 1217h0M1133 1183h0M1107 1152h0M1002 1208h0M1104 1169h0M1128 1158h0M871 1432h0M881 1451h0M1010 1210h0M896 1488h0M868 1392h0M934 1278h0M1033 1232h0M935 1327h0M1167 1118h0M955 1273h0M931 1294h0M985 1247h0M1190 1162h0M893 1443h0M1089 1178h0M1035 1181h0M868 1367h0M896 1410h0M1062 1173h0M902 1299h0M908 1447h0M1176 1147h0M972 1220h0M978 1245h0M1091 1170h0M1059 1182h0M1005 1238h0M1008 1230h0M883 1503h0M899 1259h0M975 1228h0M1013 1211h0M884 1382h0M1005 1255h0M1158 1296h0M1191 1241h0M1070 1335h0M920 1265h0M1147 1200h0M1008 1331h0M996 1281h0M1027 1233h0M1159 1163h0M952 1265h0M980 1284h0M910 1316h0M1065 1160h0M1091 1343h0M1108 1239h0M1022 1384h0M1009 1169h0M1181 1247h0M1019 1263h0M902 1374h0M954 1372h0M1002 1372h0M997 1409h0M1115 1341h0M989 1296h0M1014 1316h0M1049 1383h0M1108 1164h0M949 1233h0M1195 1189h0M954 1344h0M999 1309h0M1136 1322h0M1027 1267h0M1009 1386h0M974 1196h0M1049 1401h0M938 1230h0M977 1220h0M1098 1230h0M1048 1265h0M1055 1389h0M964 1281h0M946 1406h0M956 1404h0M1158 1297h0M864 1379h0M1059 1388h0M949 1378h0M1009 1181h0M1028 1419h0M860 1386h0M1040 1419h0M1014 1362h0M1093 1294h0M1143 1247h0M967 1395h0M1155 1231h0M969 1353h0M1101 1333h0M936 1325h0M1142 1318h0M940 1360h0M1062 1198h0M946 1311h0M1052 1165h0M1048 1374h0M1160 1194h0M1125 1307h0M894 1333h0M937 1247h0M1194 1171h0M1100 1221h0M1025 1160h0M1000 1215h0M1052 1295h0M1053 1286h0M1013 1313h0M881 1369h0M1045 1239h0M1148 1169h0M998 1237h0M1167 1178h0M946 1222h0M1098 1265h0M1165 1312h0M899 1349h0M1050 1405h0M1022 1373h0M1046 1355h0M1029 1349h0M1199 1186h0M1154 1150h0M1102 1244h0M1041 1215h0M1134 1264h0M1149 1302h0M1125 1261h0M981 1320h0M1147 1147h0M943 1403h0M1090 1135h0M1121 1313h0M1119 1276h0M1196 1184h0M1008 1207h0M1139 1166h0M1184 1155h0M868 1364h0M1134 1239h0M1161 1310h0M1130 1253h0M923 1289h0M981 1306h0M1044 1413h0M1078 1147h0M1092 1355h0M1173 1115h0M1099 1315h0M893 1404h0M914 1310h0M1057 1258h0M1110 1193h0M1103 1139h0M1102 1305h0M885 1384h0M1159 1293h0M1181 1323h0M1202 1223h0M1149 1276h0M1162 1296h0M1125 1329h0M962 1215h0M906 1400h0M1195 1215h0M1030 1314h0M948 1328h0M1073 1294h0M1149 1244h0M956 1401h0M1179 1206h0M1100 1355h0M946 1248h0M902 1275h0M1177 1226h0M1058 1280h0M1122 1277h0M974 1256h0M850 1389h0M1114 1314h0M1076 1296h0M1076 1199h0M1050 1318h0M980 1366h0M1098 1281h0"/><path stroke-width="3.6" opacity="0.7" d="M1027 1197h0M906 1475h0M1004 1221h0M876 1376h0M1028 1200h0M980 1209h0M859 1432h0M1078 1147h0M983 1249h0M871 1489h0M847 1417h0M905 1352h0M1010 1206h0M899 1473h0M1127 1166h0M895 1405h0M1079 1180h0M985 1242h0M875 1388h0M875 1429h0M875 1461h0M900 1338h0M964 1233h0M857 1410h0M1015 1212h0M1073 1188h0M983 1228h0M907 1297h0M1099 1146h0M902 1269h0M977 1220h0M880 1400h0M906 1311h0M901 1437h0M874 1393h0M850 1433h0M859 1423h0M934 1278h0M909 1342h0M860 1372h0M956 1230h0M889 1463h0M1005 1237h0M998 1209h0M987 1203h0M880 1348h0M934 1293h0M977 1247h0M948 1231h0M1149 1148h0M1052 1203h0M1185 1155h0M1162 1163h0M977 1252h0M1027 1183h0M924 1327h0M859 1491h0M882 1392h0M885 1434h0M1064 1177h0M1110 1167h0M1061 1212h0M841 1389h0M867 1380h0M1040 1187h0M940 1237h0M947 1236h0M881 1396h0M1129 1167h0M900 1388h0M968 1206h0M1161 1173h0M963 1261h0M1017 1215h0M1019 1201h0M1035 1186h0M1057 1178h0M936 1279h0M1113 1172h0M865 1434h0M998 1236h0M886 1277h0M1143 1292h0M1000 1340h0M1137 1323h0M1039 1235h0M1131 1172h0M1120 1218h0M903 1268h0M1088 1238h0M953 1396h0M1042 1359h0M973 1216h0M1007 1257h0M1112 1313h0M927 1221h0M1107 1332h0M1083 1334h0M1201 1242h0M941 1401h0M1043 1240h0M1123 1234h0M1093 1262h0M936 1400h0M920 1357h0M934 1371h0M998 1410h0M988 1415h0M1172 1326h0M1015 1297h0M914 1271h0M980 1200h0M1041 1339h0M886 1318h0M890 1339h0M1035 1252h0M887 1404h0M1120 1228h0M946 1223h0M1031 1347h0M1142 1197h0M1025 1371h0M952 1239h0M1130 1214h0M936 1254h0M909 1317h0M1072 1344h0M1067 1353h0M906 1329h0M939 1261h0M925 1276h0M932 1291h0M1122 1145h0M1143 1240h0M941 1267h0M1100 1179h0M982 1291h0M914 1402h0M961 1385h0M1116 1125h0M951 1403h0M1016 1281h0M902 1324h0M1088 1226h0M1049 1142h0M1042 1157h0M991 1338h0M922 1364h0M1105 1333h0M960 1324h0M1020 1199h0M1015 1214h0M895 1341h0M997 1353h0M984 1262h0M995 1306h0M921 1334h0M926 1378h0M1052 1365h0M1083 1221h0M980 1354h0M1065 1365h0M1007 1259h0M861 1337h0M1099 1316h0M1073 1369h0M886 1370h0M1127 1152h0M1018 1213h0M1013 1364h0M1087 1257h0M1152 1117h0M1085 1254h0M1165 1201h0M954 1214h0M1080 1368h0M913 1386h0M1102 1282h0M881 1399h0M1125 1144h0M1074 1253h0M1084 1261h0M936 1412h0M991 1268h0M1150 1185h0M909 1354h0M1018 1157h0M866 1389h0M1184 1242h0M1120 1176h0M1043 1372h0M1095 1207h0M1011 1405h0M932 1407h0M1007 1373h0M979 1361h0M1014 1418h0M1089 1349h0M966 1397h0M1035 1396h0M978 1265h0M1103 1231h0M1089 1356h0M1060 1191h0M1087 1272h0M1084 1148h0M986 1345h0M955 1238h0M936 1377h0M1003 1393h0M1058 1176h0M1198 1260h0M995 1380h0M1046 1209h0M999 1403h0M1049 1363h0M1079 1269h0M924 1258h0M1129 1162h0M1117 1266h0M1014 1283h0M1020 1199h0M1177 1275h0M876 1398h0M931 1396h0M879 1563h0M1066 1530h0M883 1438h0M959 1602h0M945 1641h0M864 1591h0M1113 1483h0M1074 1555h0M949 1463h0M1159 1535h0M1040 1514h0M912 1519h0M1185 1466h0M889 1641h0M1079 1552h0M871 1545h0M894 1484h0M1183 1569h0M907 1518h0M1134 1640h0M978 1599h0M930 1644h0M1009 1554h0M946 1504h0M961 1654h0M1196 1467h0M1139 1693h0M937 1420h0M1070 1433h0M1071 1470h0M1013 1415h0M906 1601h0M1062 1618h0M1138 1609h0M985 1469h0M1102 1581h0M1132 1583h0M1071 1545h0M1072 1404h0M1138 1685h0M1119 1455h0M862 1512h0M888 1656h0M872 1412h0M895 1687h0M899 1400h0M1073 1558h0M890 1461h0M885 1572h0M892 1452h0M1197 1668h0M988 1488h0M866 1556h0M1099 1403h0M1143 1689h0M888 1519h0M939 1516h0M1101 1470h0M1162 1692h0M878 1587h0M1103 1469h0M1045 1568h0M895 1458h0M998 1659h0M934 1691h0M1110 1421h0M1188 1689h0M1067 1498h0M948 1577h0M880 1490h0M1166 1413h0M1037 1628h0M1172 1597h0M1172 1694h0M1198 1413h0M1058 1425h0M1131 1479h0M1120 1513h0M1117 1491h0M964 1621h0M922 1426h0M895 1516h0M1075 1492h0M1008 1603h0M1191 1509h0M1119 1411h0M857 1587h0M1081 1404h0M857 1436h0M1035 1601h0M936 1491h0M983 1562h0M1151 1457h0M886 1600h0M994 1410h0M1078 1563h0"/><path stroke-width="3.6" opacity="0.95" d="M866 1430h0M956 1277h0M949 1258h0M1053 1164h0M971 1253h0M1053 1198h0M1024 1238h0M907 1330h0M938 1217h0M1004 1235h0M869 1405h0M913 1482h0M856 1444h0M1029 1180h0M1040 1225h0M916 1300h0M974 1280h0M1169 1145h0M1074 1179h0M872 1458h0M1051 1185h0M991 1261h0M1026 1223h0M1173 1163h0M882 1314h0M920 1282h0M888 1335h0M866 1452h0M917 1354h0M1038 1185h0M908 1340h0M939 1252h0M1000 1251h0M870 1334h0M893 1296h0M906 1435h0M1087 1172h0M1133 1122h0M1019 1180h0M874 1379h0M887 1358h0M891 1282h0M1062 1165h0M1130 1182h0M960 1257h0M1039 1188h0M914 1402h0M1034 1190h0M918 1326h0M889 1370h0M1043 1172h0M884 1483h0M1002 1240h0M1034 1164h0M988 1245h0M983 1207h0M897 1382h0M900 1495h0M954 1248h0M1122 1144h0M1036 1194h0M1065 1198h0M880 1487h0M863 1353h0M1001 1238h0M1175 1136h0M985 1211h0M896 1405h0M971 1232h0M913 1319h0M1140 1176h0M876 1457h0M849 1481h0M901 1343h0M1142 1159h0M984 1241h0M940 1245h0M1161 1169h0M1032 1170h0M850 1348h0M896 1488h0M915 1337h0M940 1234h0M964 1218h0M998 1216h0M900 1462h0M1045 1173h0M913 1338h0M1067 1192h0M896 1437h0M877 1403h0M1035 1181h0M1096 1165h0"/><path stroke-width="4.6" opacity="0.45" d="M893 1369h0M908 1447h0M1147 1120h0M987 1237h0M1134 1216h0M894 1449h0M919 1257h0M1042 1194h0M1183 1143h0M1186 1161h0M931 1470h0M1120 1166h0M863 1394h0M917 1250h0M920 1236h0M902 1389h0M904 1466h0M885 1318h0M877 1391h0M862 1425h0M948 1235h0M950 1282h0M909 1454h0M892 1310h0M893 1294h0M1185 1161h0M984 1203h0M970 1222h0M1012 1220h0M1060 1197h0M1002 1237h0M914 1311h0M949 1245h0M963 1246h0M847 1413h0M1110 1189h0M880 1378h0M1094 1150h0M898 1428h0M871 1489h0M1183 1142h0M977 1241h0M895 1425h0M871 1349h0M902 1314h0M880 1457h0M895 1362h0M938 1299h0M918 1251h0M877 1380h0M1048 1190h0M953 1248h0M1181 1138h0M1166 1135h0M880 1390h0M1047 1201h0M879 1389h0M1178 1147h0M1035 1218h0M900 1388h0M955 1258h0M852 1390h0M866 1340h0M988 1193h0M1075 1172h0M929 1277h0M950 1227h0M943 1281h0M878 1374h0M967 1249h0M863 1393h0M1153 1175h0M893 1343h0M940 1292h0M954 1231h0M1102 1176h0M884 1385h0M891 1474h0M944 1252h0M956 1281h0M911 1276h0M1123 1152h0M877 1365h0M967 1198h0M900 1325h0M875 1448h0M1167 1129h0M906 1346h0M1096 1160h0M929 1336h0M881 1460h0M865 1421h0M1013 1170h0M1058 1157h0M837 1378h0M900 1284h0M940 1244h0M870 1375h0M1017 1386h0M1153 1278h0M868 1400h0M1166 1165h0M1155 1297h0M1046 1190h0M925 1333h0M1071 1369h0M1090 1206h0M955 1264h0M919 1404h0M979 1248h0M1035 1360h0M1146 1207h0M1122 1293h0M948 1275h0M1022 1416h0M1126 1233h0M896 1331h0M1032 1161h0M1088 1320h0M872 1385h0M944 1408h0M945 1407h0M1193 1284h0M906 1414h0M1023 1178h0M947 1305h0M988 1335h0M857 1330h0M1036 1183h0M1126 1219h0M1097 1311h0M996 1364h0M939 1266h0M919 1408h0M999 1339h0M967 1331h0M1067 1305h0M1071 1188h0M1105 1193h0M932 1340h0M989 1397h0M1142 1261h0M1093 1251h0M1081 1357h0M1069 1294h0M1083 1299h0M1195 1216h0M966 1229h0M966 1366h0M1099 1264h0M1140 1334h0M1038 1187h0M1145 1224h0M1190 1120h0M1076 1269h0M889 1352h0M1079 1139h0M977 1417h0M1048 1361h0M1086 1182h0M919 1398h0M1177 1144h0M1177 1320h0M1058 1361h0M1090 1236h0M1197 1180h0M1040 1387h0M995 1336h0M943 1267h0M1047 1371h0M1001 1191h0M909 1405h0M914 1387h0M1077 1275h0M1019 1313h0M935 1372h0M1056 1204h0M1050 1144h0M1026 1297h0M1025 1355h0M1121 1289h0M959 1399h0M1008 1399h0M904 1320h0M1059 1160h0M1104 1153h0M1162 1156h0M989 1380h0M965 1311h0M966 1210h0M1038 1173h0M1072 1330h0M1005 1192h0M905 1405h0M1036 1321h0M1062 1237h0M1006 1402h0M1061 1280h0M987 1339h0M919 1265h0M1117 1316h0M1149 1199h0M1115 1306h0M1044 1222h0M1118 1184h0M1023 1194h0M985 1388h0M1069 1366h0M918 1403h0M971 1396h0M1165 1276h0M1185 1221h0M1128 1335h0M1171 1287h0M1045 1359h0M1092 1232h0M1189 1282h0M968 1340h0M1053 1360h0M1060 1368h0M1036 1403h0M1003 1275h0M1165 1292h0M1082 1238h0M1080 1329h0M1016 1330h0M1122 1309h0M935 1406h0M998 1172h0M1053 1346h0M1079 1265h0M993 1398h0M992 1377h0M891 1334h0M999 1265h0M950 1310h0M1119 1317h0M884 1367h0M1142 1134h0M1044 1343h0M1126 1300h0M1108 1254h0M1030 1402h0M1179 1231h0M1036 1240h0M1131 1321h0M1152 1303h0M892 1404h0M1116 1314h0M924 1413h0M997 1283h0M970 1404h0M851 1389h0M983 1268h0M1047 1251h0M978 1402h0M1131 1193h0M942 1218h0M979 1402h0M1183 1257h0M952 1406h0M949 1386h0"/><path stroke-width="4.6" opacity="0.7" d="M958 1253h0M1161 1172h0M893 1486h0M1143 1149h0M979 1226h0M922 1263h0M936 1250h0M880 1427h0M1022 1143h0M921 1248h0M953 1281h0M1040 1181h0M908 1279h0M1179 1128h0M853 1370h0M953 1265h0M1002 1227h0M1192 1152h0M1059 1200h0M910 1352h0M939 1305h0M900 1316h0M982 1233h0M1015 1222h0M836 1426h0M927 1358h0M903 1349h0M928 1334h0M852 1434h0M981 1245h0M903 1401h0M888 1381h0M886 1360h0M860 1459h0M864 1375h0M898 1417h0M1075 1181h0M886 1498h0M1204 1148h0M921 1328h0M984 1196h0M852 1365h0M1037 1195h0M907 1308h0M876 1406h0M889 1360h0M1019 1175h0M980 1192h0M1120 1139h0M978 1198h0M1027 1180h0M1186 1162h0M1189 1143h0M973 1203h0M1024 1183h0M925 1302h0M925 1264h0M1175 1137h0M931 1271h0M997 1277h0M870 1403h0M974 1217h0M890 1476h0M1012 1215h0M1062 1196h0M1004 1186h0M987 1205h0M912 1326h0M1011 1194h0M888 1342h0M895 1497h0M1137 1162h0M1010 1193h0M1075 1157h0M969 1243h0M1034 1170h0M1201 1154h0M993 1234h0M890 1350h0M867 1397h0M997 1203h0M953 1236h0M1013 1340h0M908 1279h0M1086 1278h0M1019 1232h0M1148 1294h0M1098 1255h0M882 1335h0M1096 1177h0M907 1401h0M1021 1392h0M1063 1234h0M1043 1255h0M1048 1411h0M1044 1287h0M1168 1301h0M949 1220h0M1030 1178h0M1018 1323h0M1124 1327h0M1149 1329h0M1117 1346h0M1046 1227h0M1008 1413h0M1131 1337h0M1108 1125h0M992 1401h0M940 1379h0M1014 1319h0M1158 1131h0M953 1257h0M1060 1158h0M1008 1419h0M1084 1315h0M980 1266h0M995 1250h0M1088 1200h0M1157 1297h0M965 1217h0M1159 1321h0M999 1307h0M1016 1400h0M848 1394h0M1107 1314h0M1102 1355h0M1190 1177h0M1038 1328h0M1035 1393h0M1166 1180h0M1033 1363h0M922 1399h0M982 1321h0M916 1302h0M1044 1372h0M938 1368h0M1031 1312h0M1012 1408h0M1052 1379h0M919 1408h0M888 1290h0M1071 1374h0M1129 1328h0M1065 1351h0M1102 1262h0M1064 1355h0M1064 1385h0M1110 1313h0M1008 1418h0M1083 1368h0M1060 1274h0M867 1367h0M1133 1126h0M1174 1225h0M925 1224h0M955 1312h0M1158 1317h0M1019 1293h0M1046 1345h0M994 1322h0M963 1222h0M1062 1378h0M1150 1254h0M1056 1333h0M979 1410h0M966 1385h0M1014 1268h0M1122 1296h0M1081 1302h0M1087 1311h0M1085 1181h0M1019 1389h0M1067 1246h0M994 1367h0M1020 1419h0M979 1396h0M1108 1337h0M1089 1313h0M1077 1250h0M1069 1282h0M894 1386h0M892 1264h0M883 1409h0M1017 1241h0M1098 1229h0M1053 1211h0M1044 1163h0M1008 1326h0M1049 1334h0M1012 1412h0M908 1350h0M1180 1259h0M1199 1288h0M1035 1317h0M1112 1254h0M995 1412h0M1022 1248h0M983 1269h0M864 1417h0M974 1390h0M1095 1245h0M1071 1225h0M1069 1375h0M937 1401h0M971 1233h0M1026 1239h0M1175 1277h0M1001 1278h0M1067 1372h0M1151 1262h0M865 1417h0M1174 1138h0M1040 1400h0M1082 1315h0M1135 1270h0M1027 1399h0M1079 1356h0M1135 1322h0M990 1308h0M1101 1300h0M996 1219h0M1160 1148h0M1015 1253h0M890 1266h0M1089 1298h0M845 1364h0M976 1254h0M1105 1257h0"/><path stroke-width="4.6" opacity="0.95" d="M888 1445h0M850 1426h0M906 1351h0M867 1381h0M1035 1196h0M909 1340h0M890 1326h0M1025 1225h0M887 1305h0M907 1286h0M1132 1171h0M872 1305h0M884 1387h0M907 1265h0M1005 1208h0M882 1455h0M993 1247h0M1070 1171h0M1003 1206h0M976 1196h0M1182 1157h0M926 1236h0M1068 1159h0M879 1339h0M876 1381h0M1089 1131h0M985 1257h0M871 1411h0M1167 1139h0M1137 1167h0M910 1290h0M909 1401h0M961 1241h0M964 1235h0M1025 1213h0M926 1254h0M981 1194h0M887 1376h0M1141 1167h0M1077 1178h0M1045 1168h0M1048 1203h0M945 1281h0M965 1256h0M927 1312h0M892 1282h0M880 1499h0M1192 1148h0M1024 1200h0M944 1241h0M1021 1200h0M936 1310h0M1085 1201h0M882 1368h0M988 1224h0M1103 1189h0M912 1299h0M997 1221h0M886 1355h0M1103 1161h0M863 1434h0M992 1246h0M911 1347h0M1125 1186h0M1027 1184h0M919 1341h0M1019 1191h0M1018 1226h0M1181 1178h0M1067 1180h0M969 1242h0M905 1364h0M945 1226h0M1130 1135h0M886 1417h0M1055 1177h0M907 1354h0M907 1381h0M879 1445h0M966 1233h0M1126 1169h0M902 1385h0M1008 1189h0M970 1240h0M917 1267h0M1144 1177h0M1026 1172h0M1055 1168h0M1161 1142h0M1163 1162h0M967 1223h0M909 1328h0M989 1201h0M1049 1200h0M1176 1124h0M1147 1160h0M935 1220h0M1009 1211h0M873 1429h0M929 1267h0M877 1491h0M1182 1141h0M1138 1134h0M949 1242h0M886 1382h0M988 1225h0M958 1237h0M876 1350h0M1062 1184h0M1053 1202h0"/><path stroke-width="5.8" opacity="0.45" d="M869 1383h0M885 1468h0M1094 1143h0M916 1334h0M1118 1138h0M864 1358h0M884 1345h0M899 1436h0M932 1263h0M995 1206h0M899 1369h0M1075 1175h0M1077 1181h0M931 1260h0M1106 1144h0M1021 1236h0M1019 1236h0M901 1458h0M912 1367h0M1026 1207h0M826 1420h0M875 1472h0M912 1288h0M992 1209h0M873 1363h0M993 1199h0M916 1288h0M1046 1186h0M1011 1179h0M866 1472h0M1049 1208h0M991 1248h0M861 1459h0M875 1426h0M1196 1116h0M1187 1175h0M1120 1134h0M867 1364h0M873 1491h0M1148 1144h0M884 1486h0M1015 1209h0M1005 1236h0M1032 1227h0M910 1369h0M1157 1167h0M913 1272h0M902 1382h0M953 1236h0M990 1236h0M887 1495h0M1021 1183h0M1076 1197h0M996 1238h0M878 1466h0M1052 1169h0M935 1269h0M874 1455h0M845 1422h0M886 1310h0M884 1453h0M999 1217h0M1152 1098h0M938 1263h0M879 1450h0M1142 1180h0M947 1258h0M901 1292h0M1035 1189h0M903 1303h0M1031 1206h0M1072 1190h0M1074 1152h0M1012 1204h0M1005 1224h0M913 1319h0M868 1429h0M887 1381h0M910 1344h0M879 1415h0M949 1256h0M881 1411h0M860 1399h0M1005 1215h0M1083 1189h0M1054 1179h0M860 1380h0M1000 1164h0M906 1381h0M884 1402h0M840 1408h0M878 1383h0M885 1432h0M975 1240h0M877 1467h0M955 1287h0M964 1205h0M935 1292h0M1117 1140h0M886 1403h0"/><path stroke-width="5.8" opacity="0.7" d="M881 1350h0M1048 1173h0M917 1287h0M904 1252h0M1193 1169h0M877 1421h0M958 1286h0M959 1243h0M896 1436h0M1073 1182h0M903 1431h0M874 1299h0M883 1475h0M899 1333h0M847 1411h0M929 1284h0M1094 1165h0M890 1391h0M857 1431h0M1066 1181h0M925 1283h0M1100 1158h0M1109 1159h0M1030 1163h0M959 1236h0M1087 1214h0M911 1284h0M979 1254h0M857 1407h0M932 1248h0M883 1484h0M971 1237h0M923 1291h0M1095 1195h0M1133 1147h0M883 1436h0M950 1223h0M1126 1152h0M891 1413h0M915 1413h0M838 1475h0M884 1413h0M885 1402h0M892 1490h0M1149 1138h0M944 1288h0M1058 1185h0M1060 1197h0M1116 1162h0M1002 1233h0M902 1383h0M1131 1159h0M1103 1154h0M1132 1138h0M893 1442h0M934 1293h0M953 1246h0M1139 1123h0M940 1272h0M1023 1207h0M927 1289h0M1026 1241h0M910 1297h0M1146 1145h0M891 1256h0M1139 1155h0M944 1245h0M1028 1187h0M918 1380h0M891 1391h0M864 1448h0M888 1281h0M929 1289h0M1047 1178h0M1040 1184h0M882 1426h0M1066 1177h0M857 1443h0M901 1300h0M899 1479h0M926 1312h0M861 1465h0M1124 1138h0M1056 1160h0M1114 1191h0M886 1332h0M972 1253h0M1183 1137h0M866 1427h0M996 1269h0M999 1193h0M868 1429h0"/><path stroke-width="5.8" opacity="0.95" d="M893 1445h0M1052 1194h0M860 1379h0M1164 1133h0M858 1387h0M882 1443h0M1014 1220h0M889 1277h0M1062 1164h0M966 1212h0M863 1379h0M1107 1182h0M907 1358h0M955 1255h0M879 1442h0M890 1387h0M884 1451h0M887 1484h0M1058 1164h0M1062 1165h0M882 1417h0M879 1487h0M1163 1147h0M883 1456h0M991 1210h0M870 1444h0M1160 1133h0M1107 1159h0M1058 1193h0M879 1419h0M878 1437h0M1121 1172h0M928 1317h0M943 1240h0M900 1299h0M983 1245h0M901 1480h0M869 1373h0M1014 1202h0M857 1436h0M883 1447h0M902 1469h0M919 1433h0M1051 1215h0M1168 1169h0M1102 1168h0M987 1234h0M900 1345h0M852 1336h0M946 1284h0M854 1423h0M1077 1152h0M877 1488h0M1067 1158h0M970 1254h0M1055 1173h0M1023 1211h0M1198 1151h0M902 1492h0M1019 1216h0M891 1404h0M1185 1173h0M1056 1197h0M1095 1167h0M1025 1181h0M1027 1173h0M1191 1137h0M1017 1230h0M905 1341h0M908 1316h0M948 1215h0M1086 1174h0M921 1310h0M958 1214h0M993 1210h0M879 1396h0M1173 1171h0M909 1328h0M852 1362h0M855 1416h0M1036 1210h0M961 1274h0M1061 1171h0M889 1329h0M1195 1135h0M959 1281h0M903 1366h0M889 1428h0M949 1225h0M887 1472h0M930 1310h0M938 1254h0M885 1306h0M890 1430h0M993 1215h0M994 1213h0M850 1409h0M993 1229h0M892 1487h0M1053 1181h0"/></g>
<g filter="url(#b1)"><path fill="#ffffff" d="M1038 1372 C1030 1360,1032 1345,1042 1342 C1045 1325,1055 1318,1062 1316 L1075 1296 L1090 1318 C1100 1325,1103 1345,1098 1360 C1100 1372,1092 1378,1080 1377 Z"/><path fill="#ffffff" d="M1086 1370 C1080 1350,1085 1330,1095 1322 C1095 1305,1105 1295,1112 1295 C1125 1296,1132 1310,1130 1322 C1140 1332,1142 1355,1134 1370 C1125 1380,1095 1380,1086 1370 Z"/><rect x="1070" y="1360" width="10" height="40" fill="#ffffff"/><rect x="1104" y="1360" width="10" height="41" fill="#ffffff"/><path fill="#ffffff" opacity="0.9" d="M1125 1382 C1125 1360,1140 1345,1160 1342 C1175 1340,1190 1350,1200 1345 L1200 1392 L1130 1390 Z"/><path fill="#ffffff" opacity="0.85" d="M1147 1330 C1145 1312,1158 1300,1172 1302 C1175 1315,1168 1330,1147 1330 Z"/><path fill="#ffffff" opacity="0.85" d="M1178 1338 C1180 1315,1190 1300,1200 1298 L1200 1340 Z"/></g><g fill="none" stroke="#6fd3dc" stroke-width="3" opacity="0.9"><path d="M1075 1322 L1075 1397 M1075 1345 L1065 1333 M1111 1326 L1111 1398 M1111 1350 L1098 1338 M1111 1348 L1121 1340"/></g><g fill="#ffffff" filter="url(#b1)"><circle cx="1010" cy="1268" r="22"/><rect x="1002" y="1286" width="16" height="14" rx="3"/><g stroke="#ffffff" stroke-width="7" stroke-linecap="round"><line x1="984" y1="1298" x2="976" y2="1310"/><line x1="1036" y1="1298" x2="1044" y2="1310"/><line x1="1010" y1="1308" x2="1010" y2="1320"/><line x1="975" y1="1262" x2="968" y2="1262"/></g></g><g fill="none" stroke="#ffffff" stroke-width="9" filter="url(#b1)"><circle cx="1055" cy="1226" r="12"/><line x1="1048" y1="1240" x2="1040" y2="1272"/></g><g filter="url(#b1)"><g opacity="0.9"><polygon points="1120.0,1118.0 1119.5,1122.9 1113.0,1125.5 1111.2,1128.8 1112.7,1135.7 1108.9,1138.8 1102.5,1136.0 1098.8,1137.1 1095.0,1143.0 1090.1,1142.5 1087.5,1136.0 1084.2,1134.2 1077.3,1135.7 1074.2,1131.9 1077.0,1125.5 1075.9,1121.8 1070.0,1118.0 1070.5,1113.1 1077.0,1110.5 1078.8,1107.2 1077.3,1100.3 1081.1,1097.2 1087.5,1100.0 1091.2,1098.9 1095.0,1093.0 1099.9,1093.5 1102.5,1100.0 1105.8,1101.8 1112.7,1100.3 1115.8,1104.1 1113.0,1110.5 1114.1,1114.2" fill="#c9f3f8"/><circle cx="1095" cy="1118" r="8.0" fill="#45c4d8"/></g></g><g opacity="0.97"><polygon points="645.0,1169.0 644.9,1171.2 640.8,1172.4 640.3,1174.1 642.7,1177.5 641.5,1179.3 637.4,1178.4 636.1,1179.5 636.5,1183.7 634.5,1184.7 631.4,1181.8 629.7,1182.1 628.0,1186.0 625.8,1185.9 624.6,1181.8 622.9,1181.3 619.5,1183.7 617.7,1182.5 618.6,1178.4 617.5,1177.1 613.3,1177.5 612.3,1175.5 615.2,1172.4 614.9,1170.7 611.0,1169.0 611.1,1166.8 615.2,1165.6 615.7,1163.9 613.3,1160.5 614.5,1158.7 618.6,1159.6 619.9,1158.5 619.5,1154.3 621.5,1153.3 624.6,1156.2 626.3,1155.9 628.0,1152.0 630.2,1152.1 631.4,1156.2 633.1,1156.7 636.5,1154.3 638.3,1155.5 637.4,1159.6 638.5,1160.9 642.7,1160.5 643.7,1162.5 640.8,1165.6 641.1,1167.3" fill="#ffffff"/><circle cx="628" cy="1169" r="4.8" fill="#5ecbd6"/></g><g opacity="0.97"><polygon points="622.0,1190.0 621.8,1192.3 618.5,1193.5 617.8,1195.1 619.0,1198.4 617.4,1200.0 614.1,1198.8 612.5,1199.5 611.3,1202.8 609.0,1203.0 607.2,1200.0 605.5,1199.5 602.5,1201.3 600.6,1200.0 601.2,1196.5 600.2,1195.1 596.8,1194.4 596.2,1192.3 598.9,1190.0 599.0,1188.2 596.8,1185.6 597.7,1183.5 601.2,1183.5 602.5,1182.2 602.5,1178.7 604.6,1177.8 607.2,1180.0 609.0,1179.9 611.3,1177.2 613.4,1177.8 614.1,1181.2 615.5,1182.2 619.0,1181.6 620.3,1183.5 618.5,1186.5 619.0,1188.2" fill="#ffffff"/><circle cx="609" cy="1190" r="3.9" fill="#5ecbd6"/></g><g filter="url(#b1)"><g opacity="0.75"><polygon points="989.0,1372.0 988.8,1374.2 985.4,1375.4 984.7,1377.0 986.3,1380.2 984.9,1381.9 981.4,1380.8 980.0,1381.7 979.3,1385.3 977.2,1385.8 975.0,1382.9 973.3,1382.8 970.7,1385.3 968.6,1384.5 968.6,1380.8 967.3,1379.7 963.7,1380.2 962.5,1378.4 964.6,1375.4 964.2,1373.7 961.0,1372.0 961.2,1369.8 964.6,1368.6 965.3,1367.0 963.7,1363.8 965.1,1362.1 968.6,1363.2 970.0,1362.3 970.7,1358.7 972.8,1358.2 975.0,1361.1 976.7,1361.2 979.3,1358.7 981.4,1359.5 981.4,1363.2 982.7,1364.3 986.3,1363.8 987.5,1365.6 985.4,1368.6 985.8,1370.3" fill="#ffffff"/><circle cx="975" cy="1372" r="2.8" fill="#ffffff"/></g></g><g opacity="0.8" filter="url(#b2)"><g fill="none" stroke="#cdf3f5" stroke-width="11" stroke-linejoin="round" stroke-linecap="round"><path d="M546 1212 L 562 1150 L 584 1158 L 584 1200"/><path d="M537 1240 L 534 1298 L 560 1300"/><path d="M594 1222 L 607 1276 L 596 1298 L 580 1300"/></g><g fill="#cdf3f5"><path d="M563 1168 L 588 1166 L 588 1208 L 563 1200 Z"/><path d="M522 1248 L 548 1236 L 548 1266 Z"/><path d="M572 1302 L 604 1290 L 596 1328 Z"/></g></g><g fill="none" stroke="#d6f4f7" stroke-width="5" opacity="0.6" filter="url(#b1)"><path d="M870 1215 L 890 1215 M880 1215 L 876 1262 M880 1215 L 886 1262 M896 1232 L 912 1232 M904 1232 L 900 1265 M904 1232 L 909 1265"/></g><g fill="#ffffff" opacity="0.9" filter="url(#b1)"><ellipse cx="936" cy="1178" rx="6" ry="5"/></g><g fill="#ffffff" opacity="0.35" filter="url(#b2)"><path d="M815 1400 L815 1365 L835 1352 L860 1365 L860 1400 Z"/></g><g fill="#ffffff" opacity="0.8" filter="url(#b1)"><path d="M498 1498 C 478 1492, 472 1475, 483 1465 C 500 1470, 506 1485, 498 1498 Z"/><path d="M502 1498 C 500 1484, 512 1472, 528 1474 C 528 1490, 515 1500, 502 1498 Z"/><path d="M500 1497 L 500 1506" stroke="#fff" stroke-width="3"/><path d="M476 1524 C 474 1510, 490 1505, 506 1508 C 516 1508, 524 1500, 532 1503 C 530 1516, 512 1528, 490 1528 Z"/></g><g fill="#ffffff" opacity="0.35" filter="url(#b2)"><path d="M722 1480 C 730 1465, 755 1468, 757 1490 L 750 1518 L 728 1518 Z"/></g><g filter="url(#b1)" opacity="0.9"><path fill="#ffffff" d="M965 1540 C 960 1512, 985 1495, 1000 1515 C 1008 1525, 1008 1540, 1005 1545 L 965 1548 Z"/><circle cx="983" cy="1520" r="5" fill="#9ad8d8"/><circle cx="972" cy="1550" r="5" fill="none" stroke="#fff" stroke-width="3"/><circle cx="999" cy="1550" r="5" fill="none" stroke="#fff" stroke-width="3"/></g><g fill="#ffffff" opacity="0.9" filter="url(#b1)"><path d="M1052 1542 C 1044 1555, 1043 1568, 1052 1570 C 1061 1568, 1060 1555, 1052 1542 Z"/><ellipse cx="1096" cy="1552" rx="24" ry="16" opacity="0.65"/><path d="M1112 1562 C 1100 1575, 1102 1598, 1114 1598 C 1127 1595, 1126 1575, 1112 1562 Z" opacity="0.85"/></g><g filter="url(#b1)"><path d="M938 1592 L 988 1590 L 992 1630 L 933 1633 Z" fill="#ffffff" opacity="0.9"/><path d="M950 1592 L947 1632 M962 1591 L961 1632 M975 1590 L976 1631 M936 1604 L989 1602 M935 1617 L990 1615" stroke="#6ccbd8" stroke-width="2.5"/><rect x="957" y="1633" width="5" height="10" fill="#fff"/><rect x="942" y="1642" width="36" height="4" fill="#fff"/></g><g filter="url(#b2)" opacity="0.6"><rect x="1120" y="1610" width="80" height="32" fill="#ffffff"/><path d="M1138 1610 V1642 M1156 1610 V1642 M1176 1610 V1642 M1120 1626 H1200" stroke="#5cc6d6" stroke-width="3"/></g><g filter="url(#b1)" opacity="0.92"><path d="M1138 1696 L 1138 1665 L 1165 1650 L 1168 1642 L 1200 1636 L 1200 1696 Z" fill="#ffffff"/><path d="M1170 1660 H1195 M1170 1670 H1195 M1170 1680 H1195" stroke="#7fd0dc" stroke-width="2.5"/></g><g fill="#ffffff" opacity="0.95" filter="url(#b1)"><path d="M1040 1696 L 1048 1670 L 1055 1660 L 1062 1670 L 1070 1696 Z"/></g><g fill="#d6e6a8" opacity="0.45"><rect x="1075" y="1597" width="7" height="25"/></g>
</svg>
</div><!--/IMG-->
</body>
</html>
